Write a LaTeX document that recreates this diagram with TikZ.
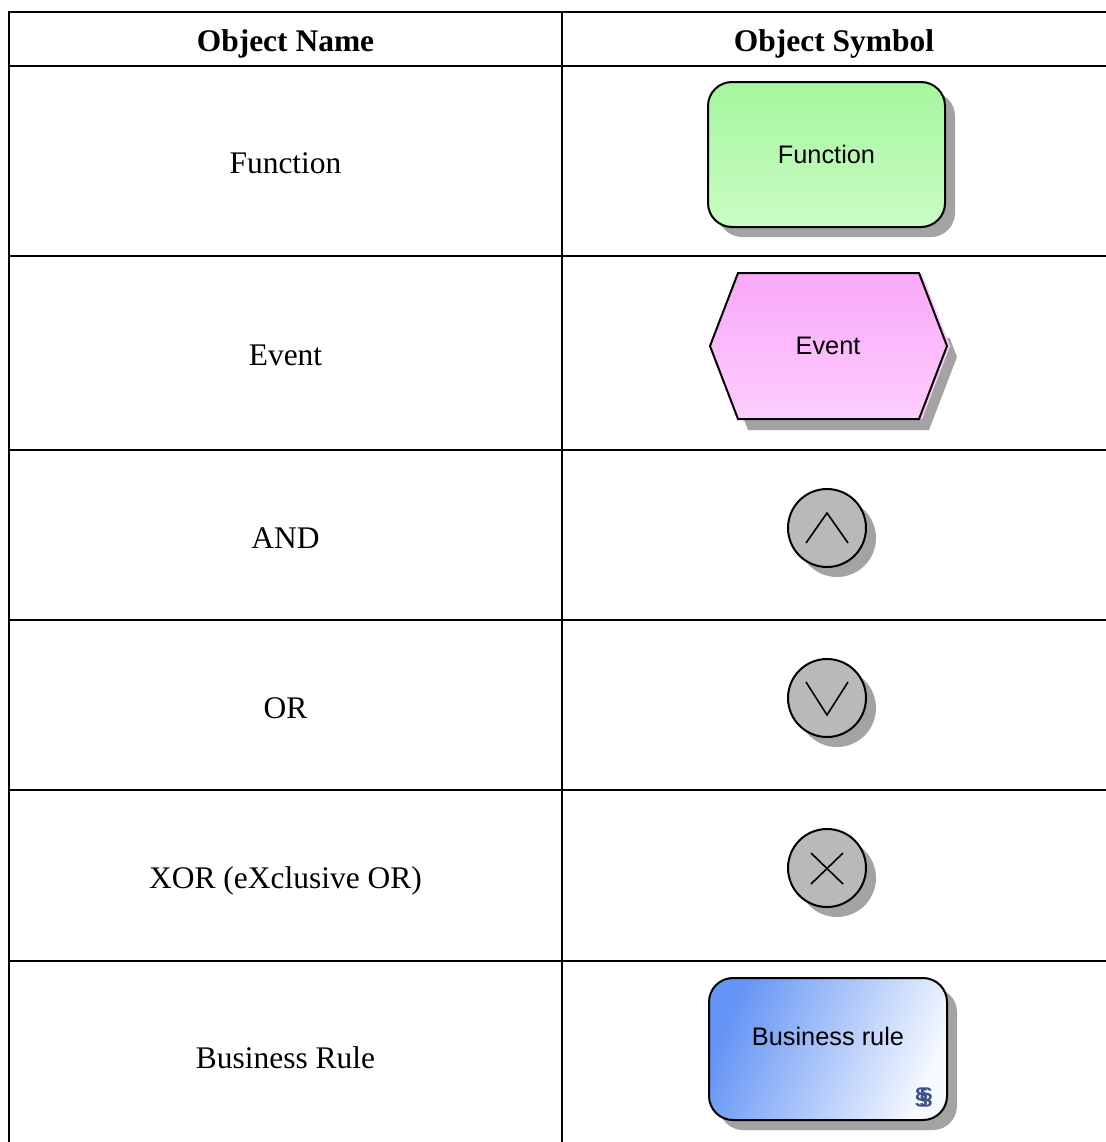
\documentclass[tikz,border=0pt]{standalone}
\usepackage{fontspec}
\setmainfont{Liberation Serif}
\newfontfamily\shapefont{Liberation Sans}
\usetikzlibrary{shadows}

\definecolor{shadowgray}{RGB}{163,163,163}
\definecolor{gatefill}{RGB}{185,185,185}
\definecolor{funtop}{RGB}{165,246,158}
\definecolor{funbot}{RGB}{202,253,196}
\definecolor{evtop}{RGB}{249,168,249}
\definecolor{evbot}{RGB}{253,206,253}
\definecolor{evhalo}{RGB}{252,200,252}
\definecolor{brblue}{RGB}{100,148,245}
\definecolor{brmid}{RGB}{190,210,250}
\definecolor{brwhite}{RGB}{246,249,255}
\definecolor{paragraphblue}{RGB}{62,82,135}

\begin{document}
\begin{tikzpicture}[x=0.75pt,y=-0.75pt,
  tableline/.style={line width=1.9pt, line join=miter},
  headtext/.style={anchor=base, font=\fontsize{23.6}{28}\selectfont\bfseries},
  celltext/.style={anchor=base, font=\fontsize{23.6}{28}\selectfont},
  shapetext/.style={font=\shapefont\fontsize{19}{22}\selectfont, inner sep=0pt},
  boxshadow/.style={general shadow={fill=shadowgray, shadow xshift=7.5pt, shadow yshift=-7.5pt}},
  roundbox/.style={draw, line width=1.5pt, rounded corners=18pt, inner sep=0pt,
    minimum width=177.75pt, minimum height=108.75pt, boxshadow},
  gate/.style={circle, draw, line width=1.5pt, fill=gatefill, inner sep=0pt,
    minimum size=58.5pt, boxshadow},
  gatemark/.style={line width=1.2pt}
]
\useasboundingbox (0,0) rectangle (1106,1142);

% table rules
\draw[tableline] (1106,12) -- (9,12) -- (9,1142);
\draw[tableline] (562,12) -- (562,1142);
\foreach \yy in {66,256,450,620,790,961}
  \draw[tableline] (9,\yy) -- (1106,\yy);

% header row
\node[headtext] (hname) at (285.5,51) {Object Name};
\node[headtext] (hsym) at (834,51) {Object Symbol};

% object names
\node[celltext] (nfun) at (285.5,173) {Function};
\node[celltext] (nev) at (285.5,365) {Event};
\node[celltext] (nand) at (285.5,548) {AND};
\node[celltext] (nor) at (285.5,718) {OR};
\node[celltext] (nxor) at (285.5,888) {XOR (eXclusive OR)};
\node[celltext] (nbr) at (285.5,1068) {Business Rule};

% function symbol
\node[roundbox, top color=funtop, bottom color=funbot, shapetext] (fun) at (826.5,154.5) {Function};

% event symbol: shadow, light rim, hexagon
\begin{scope}
  \clip (690,338) rectangle (980,445);
  \begin{scope}[shift={(10,11)}]
    \fill[shadowgray] (710,346) -- (738,273) -- (919,273) -- (947,346) -- (919,419) -- (738,419) -- cycle;
  \end{scope}
\end{scope}
\draw[evhalo, line width=1.5pt] (921,274) -- (949,346) -- (921,419);
\shadedraw[top color=evtop, bottom color=evbot, line width=1.5pt, line join=miter]
  (710,346) -- (738,273) -- (919,273) -- (947,346) -- (919,419) -- (738,419) -- cycle;
\node[shapetext] (ev) at (828,346) {Event};

% connector gates
\node[gate] (gand) at (827,528) {};
\draw[gatemark] ([shift={(-21,15)}]gand.center) -- ([shift={(0,-15)}]gand.center) -- ([shift={(21,15)}]gand.center);

\node[gate] (gor) at (827,698) {};
\draw[gatemark] ([shift={(-21,-16)}]gor.center) -- ([shift={(0,17)}]gor.center) -- ([shift={(21,-16)}]gor.center);

\node[gate] (gxor) at (827,868) {};
\draw[gatemark] ([shift={(-16,-15)}]gxor.center) -- ([shift={(16,16)}]gxor.center);
\draw[gatemark] ([shift={(16,-15)}]gxor.center) -- ([shift={(-16,16)}]gxor.center);

% business rule symbol
\node[roundbox, bottom color=brblue, middle color=brmid, top color=brwhite, shading angle=-112,
  minimum width=178.5pt, minimum height=106.5pt] (br) at (828,1049) {};
\node[shapetext] (brtext) at (828,1036) {Business rule};
\node[inner sep=0pt, text=paragraphblue, font=\shapefont\bfseries\fontsize{18}{18}\selectfont] (brmark) at (924,1097) {§\kern-0.36em§};

\end{tikzpicture}
\end{document}
